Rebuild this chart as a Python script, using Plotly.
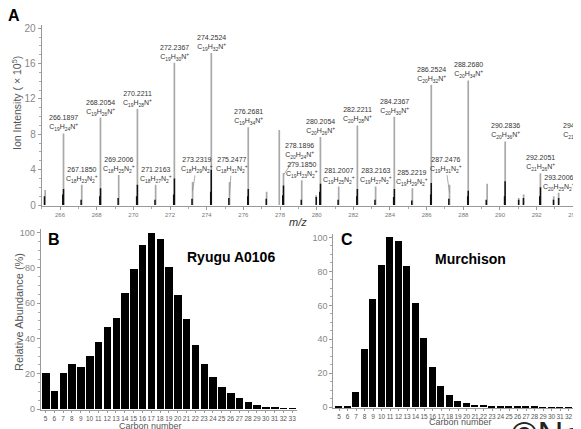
import plotly.graph_objects as go

# a página tem margem de 8 px no body: figura um pouco menor e tudo deslocado
OFF = 8
FW, FH = 581 - OFF, 429 - OFF

# Painel A: espectro de massas (picos cinzas)
pico_mz = [265.19, 266.1897, 267.1850, 268.2054, 269.2006, 270.2211, 271.2163, 272.2367,
           273.2319, 274.2524, 275.2477, 276.2681, 277.27, 277.96, 278.1896, 279.1850,
           279.97, 280.2054, 281.2007, 282.2211, 283.2163, 284.2367, 285.2219, 286.2524,
           287.2476, 288.2680, 289.30, 290.2836, 291.02, 291.29, 292.2051, 292.93,
           293.2006, 294.2216]
pico_int = [1.7, 8.1, 2.3, 9.9, 3.4, 10.9, 2.3, 16.1,
            2.6, 17.2, 2.6, 8.8, 1.5, 8.5, 3.6, 2.8,
            1.1, 7.7, 2.1, 9.0, 2.1, 10.0, 1.9, 13.6,
            2.3, 14.1, 2.4, 7.2, 0.8, 1.2, 3.6, 1.0,
            1.4, 7.2]

# picos menores (pretos) na base de cada massa nominal
menor_mz = [265.15, 266.15, 266.19, 267.15, 268.17, 268.21, 269.17, 270.18, 270.22, 271.18,
            272.20, 272.24, 273.20, 274.22, 274.25, 275.21, 276.24, 276.27, 277.25, 278.15,
            278.19, 279.16, 279.98, 280.17, 280.21, 281.17, 282.19, 282.22, 283.18, 284.20,
            284.24, 285.19, 286.22, 286.25, 287.21, 288.24, 288.27, 289.25, 290.25, 290.28,
            291.02, 291.28, 292.17, 292.21, 292.92, 293.20, 294.19, 294.22]
menor_int = [1.0, 1.2, 1.8, 0.6, 1.0, 1.9, 0.8, 1.0, 2.3, 0.6,
             1.2, 3.0, 0.7, 1.5, 4.0, 0.8, 1.0, 1.8, 0.7, 1.1,
             2.2, 0.6, 0.9, 1.5, 2.4, 0.6, 1.0, 1.8, 0.6, 0.9,
             1.8, 0.5, 1.2, 2.5, 0.7, 1.0, 1.6, 0.6, 1.0, 2.7,
             0.6, 0.8, 1.0, 2.0, 0.6, 0.8, 1.0, 2.2]

# rótulos: massa exata e fórmula (C, H, N)
rot_mz = [266.1897, 267.1850, 268.2054, 269.2006, 270.2211, 271.2163, 272.2367, 273.2319,
          274.2524, 275.2477, 276.2681, 278.1896, 279.1850, 280.2054, 281.2007, 282.2211,
          283.2163, 284.2367, 285.2219, 286.2524, 287.2476, 288.2680, 290.2836, 292.2051,
          293.2006, 294.2216]
rot_formula = [(19, 24, 1), (18, 23, 2), (19, 26, 1), (18, 25, 2), (19, 28, 1), (18, 27, 2),
               (19, 30, 1), (18, 29, 2), (19, 32, 1), (18, 31, 2), (19, 34, 1), (20, 24, 1),
               (19, 23, 2), (20, 26, 1), (19, 25, 2), (20, 28, 1), (19, 27, 2), (20, 30, 1),
               (19, 29, 2), (20, 32, 1), (19, 31, 2), (20, 34, 1), (20, 36, 1), (21, 26, 1),
               (20, 25, 2), (21, 28, 1)]
# rótulos com linha guia: (ax, ay, altura do alvo)
guia = {273.2319: (4, -26, 1.6), 275.2477: (2, -30, 1.1),
        278.1896: (16, -24, 3.4), 287.2476: (-4, -28, 1.4)}

# Painéis B e C: distribuição por número de carbonos
carbonos = list(range(5, 34))
ryugu = [20.6, 10.2, 20.6, 25.3, 23.6, 30.2, 38.2, 46.7, 51.8, 66.0, 79.6, 92.8, 100, 96.2,
         80.7, 64.8, 50.9, 36.3, 25.3, 18.0, 12.7, 8.9, 6.0, 4.2, 2.3, 1.3, 0.8, 0.4, 0.2]
murchison = [0.8, 0.8, 9.2, 34.1, 63.5, 83.7, 100, 98.0, 83.1, 61.2, 40.6, 23.5, 12.7, 7.1,
             3.9, 2.4, 1.6, 1.2, 0.8, 0.6, 0.4, 0.3, 0.2, 0.2, 0.1, 0.1, 0.1, 0.1, 0.1]

FONT = "Arial, Liberation Sans, sans-serif"


def px(p):   # pixel horizontal da página -> fração do papel
    return (p - OFF) / FW


def py(p):   # pixel vertical da página -> fração do papel
    return 1 - (p - OFF) / FH


def hastes(mz, inten):
    xs, ys = [], []
    for m, v in zip(mz, inten):
        xs += [m, m, None]
        ys += [0, v, None]
    return xs, ys


fig = go.Figure()

gx, gy = hastes(pico_mz, pico_int)
fig.add_trace(go.Scatter(x=gx, y=gy, mode="lines", line=dict(color="#a9a9a9", width=1.7),
                         xaxis="x", yaxis="y", showlegend=False))
bx, by = hastes(menor_mz, menor_int)
fig.add_trace(go.Scatter(x=bx, y=by, mode="lines", line=dict(color="#111111", width=1.5),
                         xaxis="x", yaxis="y", showlegend=False))

fig.add_trace(go.Bar(x=carbonos, y=ryugu, width=0.85, marker=dict(color="black", line_width=0),
                     xaxis="x2", yaxis="y2", showlegend=False))
fig.add_trace(go.Bar(x=carbonos, y=murchison, width=0.8, marker=dict(color="black", line_width=0),
                     xaxis="x3", yaxis="y3", showlegend=False))

anots = []
alturas = dict(zip(pico_mz, pico_int))
for m, (c, h, n) in zip(rot_mz, rot_formula):
    nsub = "<sub>2</sub>" if n == 2 else ""
    txt = f"{m:.4f}<br>C<sub>{c}</sub>H<sub>{h}</sub>N{nsub}<sup>+</sup>"
    if m in guia:
        ax, ay, alvo = guia[m]
        anots.append(dict(x=m, y=alvo, xref="x", yref="y", text=txt, showarrow=True,
                          arrowhead=0, arrowwidth=0.7, arrowcolor="#888", ax=ax, ay=ay,
                          font=dict(size=7, color="#333", family=FONT)))
    else:
        anots.append(dict(x=m, y=alturas[m], xref="x", yref="y", text=txt, showarrow=False,
                          yanchor="bottom", yshift=-1,
                          font=dict(size=7, color="#333", family=FONT)))


def txt(x, y, t, size, color="#555", bold=False, angle=0, italic=False):
    if bold:
        t = f"<b>{t}</b>"
    if italic:
        t = f"<i>{t}</i>"
    anots.append(dict(x=px(x), y=py(y), xref="paper", yref="paper", text=t,
                      showarrow=False, textangle=angle, xanchor="center", yanchor="middle",
                      font=dict(size=size, color=color, family=FONT)))


txt(14, 15, "A", 16, "black", bold=True)
txt(17, 103, "Ion Intensity ( × 10<sup>5</sup>)", 10.5, angle=-90)
txt(298, 222, "m/z", 11, "#333", italic=True)
txt(54, 240, "B", 16, "black", bold=True)
txt(347, 240, "C", 16, "black", bold=True)
txt(231, 257, "Ryugu A0106", 14, "black", bold=True)
txt(470, 259, "Murchison", 14, "black", bold=True)
txt(19, 312, "Relative Abundance (%)", 11, angle=-90)
txt(150, 426, "Carbon number", 9)
txt(460, 422, "Carbon number", 9)
anots.append(dict(x=px(509), y=py(413), xref="paper", yref="paper", text="©Nature",
                  showarrow=False, xanchor="left", yanchor="top",
                  font=dict(size=36, color="#222", family=FONT)))

eixo = dict(showline=True, linecolor="#999", linewidth=1, showgrid=False, zeroline=False,
            ticks="outside", tickcolor="#999", ticklen=3, ticklabeloverflow="allow",
            automargin=False)

fig.update_layout(
    width=FW, height=FH, margin=dict(l=0, r=0, t=0, b=0, autoexpand=False),
    paper_bgcolor="white", plot_bgcolor="white",
    font=dict(family=FONT),
    annotations=anots,
    bargap=0,
    xaxis=dict(eixo, domain=[px(41.7), px(581)], range=[265.0, 294.42], anchor="y",
               tickvals=list(range(266, 295, 2)), tickfont=dict(size=6, color="#777"),
               minor=dict(dtick=1, ticks="outside", ticklen=2, tickcolor="#aaa")),
    yaxis=dict(eixo, domain=[py(206), py(25)], range=[-0.113, 20.37], anchor="x",
               tickvals=[0, 4, 8, 12, 16, 20], tickfont=dict(size=10, color="#888"),
               minor=dict(dtick=1, ticks="outside", ticklen=2, tickcolor="#aaa")),
    xaxis2=dict(eixo, domain=[px(40.7), px(297)], range=[4.455, 33.55], anchor="y2",
                tickvals=carbonos, tickangle=0, tickfont=dict(size=6.5, color="#555"), ticklen=2),
    yaxis2=dict(eixo, domain=[py(410), py(229)], range=[-0.57, 102.1], anchor="x2",
                tickvals=[0, 20, 40, 60, 80, 100], tickfont=dict(size=9, color="#888"),
                minor=dict(dtick=5, ticks="outside", ticklen=2, tickcolor="#aaa")),
    xaxis3=dict(eixo, domain=[px(333.3), px(580.7)], range=[4.33, 33.43], anchor="y3",
                tickvals=carbonos, tickangle=0, tickfont=dict(size=6.5, color="#555"), ticklen=2),
    yaxis3=dict(eixo, domain=[py(408.3), py(234)], range=[-0.59, 102.0], anchor="x3",
                tickvals=[0, 20, 40, 60, 80, 100], tickfont=dict(size=9, color="#888"),
                minor=dict(dtick=5, ticks="outside", ticklen=2, tickcolor="#aaa")),
)

fig.write_html("out.html")
